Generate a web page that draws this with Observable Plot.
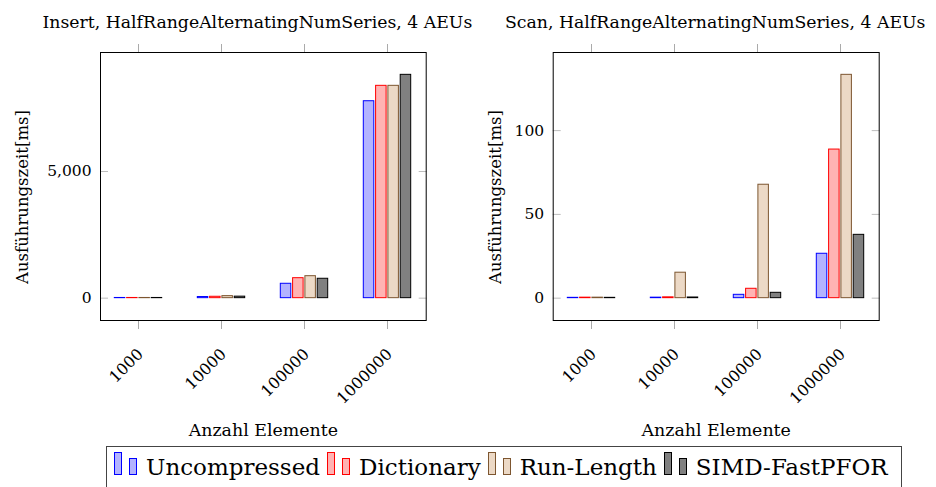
<!DOCTYPE html>
<html>
<head>
<meta charset="utf-8">
<script src="https://cdn.jsdelivr.net/npm/d3@7"></script>
<script src="https://cdn.jsdelivr.net/npm/@observablehq/plot@0.6"></script>
<style>
  html, body { margin: 0; padding: 0; background: #fff; }
  body { width: 936px; height: 487px; overflow: hidden; position: relative; font-family: "DejaVu Serif", serif; }
  .panel { position: absolute; top: 0; }
  .ylabel { position: absolute; top: 196.7px; transform: translate(-50%, -50%) rotate(-90deg); white-space: nowrap; font-size: 16.5px; line-height: 19px; color: #000; }
  #legend { position: absolute; left: 106px; top: 446px; width: 796px; height: 50px; border: 1px solid #444; box-sizing: border-box; display: flex; align-items: flex-start; padding-left: 7px; }
  .entry { display: flex; align-items: flex-start; margin-right: 7px; }
  .entry svg { margin-top: 5px; margin-right: 8px; }
  .entry span { font-size: 23px; line-height: 30px; margin-top: 5px; color: #000; }
</style>
</head>
<body>
<div id="left" class="panel" style="left:0px"></div>
<div id="right" class="panel" style="left:468px"></div>
<div id="legend"></div>
<script>
const categories = ["1000", "10000", "100000", "1000000"];
const series = ["Uncompressed", "Dictionary", "Run-Length", "SIMD-FastPFOR"];

// Insert, HalfRangeAlternatingNumSeries, 4 AEUs (ms)
const insertUncompressed = [8, 45, 568, 7774];
const insertDictionary   = [8, 55, 789, 8382];
const insertRunLength    = [8, 80, 868, 8382];
const insertSimd         = [8, 60, 766, 8816];

// Scan, HalfRangeAlternatingNumSeries, 4 AEUs (ms)
const scanUncompressed = [0.2, 0.3, 2.0, 26.5];
const scanDictionary   = [0.3, 0.5, 5.6, 88.7];
const scanRunLength    = [0.3, 15.2, 67.7, 133.3];
const scanSimd         = [0.2, 0.4, 3.2, 37.8];

const insertTicks = [0, 5000];
const scanTicks = [0, 50, 100];

const titles = ["Insert, HalfRangeAlternatingNumSeries, 4 AEUs", "Scan, HalfRangeAlternatingNumSeries, 4 AEUs"];
const yLabel = "Ausführungszeit[ms]";
const xLabel = "Anzahl Elemente";

const strokes = ["#0000ff", "#ff0000", "#7d5630", "#000000"];
const fills = ["#b3b3ff", "#ffb3b3", "#ecd9c6", "#808080"];

function toRows(lists) {
  const rows = [];
  lists.forEach((vals, si) => vals.forEach((v, ci) => rows.push({series: series[si], category: categories[ci], value: v})));
  return rows;
}

function panel({lists, ticks, tickFormat, title, marginLeft, marginRight, titleDx}) {
  const rows = toRows(lists);
  const max = d3.max(rows, d => d.value);
  const step = 12.3, barW = 10.5, band = 50;
  const inset = (band - barW) / 2;
  const bars = series.map((s, i) => Plot.barY(rows.filter(d => d.series === s), {
    x: "category", y: "value", fill: fills[i], stroke: strokes[i], strokeWidth: 1,
    dx: (i - 1.5) * step, insetLeft: inset, insetRight: inset
  }));
  return Plot.plot({
    width: 468, height: 446,
    marginLeft, marginRight, marginTop: 52, marginBottom: 126,
    style: {fontFamily: "DejaVu Serif", fontSize: "15.5px", color: "#000", background: "transparent", overflow: "visible"},
    x: {domain: categories, paddingInner: 0.4, paddingOuter: 0.156},
    y: {domain: [-0.1 * max, 1.1 * max]},
    marks: [
      ...bars,
      Plot.axisY({ticks, anchor: "left", tickSize: 8, dx: 8, tickFormat: () => "", stroke: "#bdbdbd", label: null}),
      Plot.axisY({ticks, anchor: "right", tickSize: 8, dx: -8, tickFormat: () => "", stroke: "#bdbdbd", label: null}),
      Plot.axisY({ticks, anchor: "left", tickSize: 0, tickPadding: 9, tickFormat, label: null}),
      Plot.axisX({anchor: "top", tickSize: 9, tickFormat: () => "", stroke: "#aaaaaa", label: null}),
      Plot.axisX({anchor: "bottom", tickSize: 9, tickFormat: () => "", stroke: "#aaaaaa", label: null}),
      Plot.axisX({anchor: "bottom", tickSize: 0, tickPadding: 31, tickRotate: -45, dx: 2, label: null, fontSize: 15.8}),
      Plot.frame({stroke: "#000"}),
      Plot.text([xLabel], {text: d => d, frameAnchor: "bottom", dy: 110, lineAnchor: "middle", fontSize: 17.4}),
      Plot.text([title], {text: d => d, frameAnchor: "top", dy: -30.5, dx: titleDx, lineAnchor: "middle", fontSize: 17.3})
    ]
  });
}

function yLabelDiv(centerX) {
  const d = document.createElement("div");
  d.className = "ylabel";
  d.style.left = centerX + "px";
  d.textContent = yLabel;
  document.body.appendChild(d);
}

document.getElementById("left").appendChild(panel({
  lists: [insertUncompressed, insertDictionary, insertRunLength, insertSimd],
  ticks: insertTicks, tickFormat: d3.format(","), title: titles[0],
  marginLeft: 100, marginRight: 42.3, titleDx: -6
}));
document.getElementById("right").appendChild(panel({
  lists: [scanUncompressed, scanDictionary, scanRunLength, scanSimd],
  ticks: scanTicks, tickFormat: d3.format(","), title: titles[1],
  marginLeft: 84.7, marginRight: 57.3, titleDx: -1
}));
yLabelDiv(21.8);
yLabelDiv(494.8);

const legend = document.getElementById("legend");
series.forEach((s, i) => {
  const e = document.createElement("div");
  e.className = "entry";
  e.innerHTML = `<svg width="24" height="24"><rect x="0.5" y="0.5" width="7" height="22" fill="${fills[i]}" stroke="${strokes[i]}"/><rect x="15.5" y="6.5" width="7" height="16" fill="${fills[i]}" stroke="${strokes[i]}"/></svg><span>${s}</span>`;
  legend.appendChild(e);
});
</script>
</body>
</html>
